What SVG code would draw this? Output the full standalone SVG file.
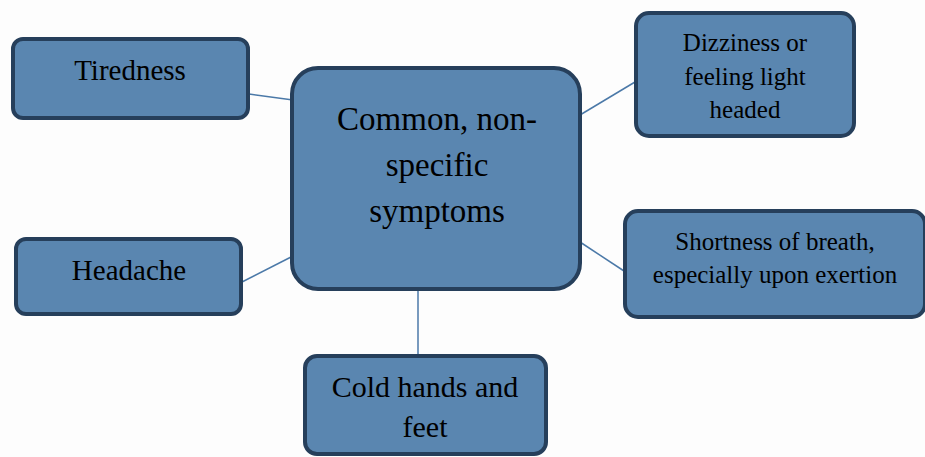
<svg xmlns="http://www.w3.org/2000/svg" width="925" height="457" viewBox="0 0 925 457">
<style>
.box{fill:#5a86b0;stroke:#263f5b;stroke-width:4}
.t{font-family:'Liberation Serif','Times New Roman','DejaVu Serif',serif;fill:#000;text-anchor:middle}
.c{stroke:#4b79a8;stroke-width:1.5;fill:none}
</style>
<rect width="925" height="457" fill="#fdfdfd"/>
<g id="connectors">
<line class="c" x1="249" y1="94" x2="293" y2="100"/>
<line class="c" x1="635" y1="82" x2="580" y2="115"/>
<line class="c" x1="242" y1="282" x2="293" y2="256"/>
<line class="c" x1="624" y1="271" x2="580" y2="242"/>
<line class="c" x1="418" y1="289" x2="418" y2="355"/>
</g>
<g id="center">
<rect class="box" x="292" y="68" width="288" height="221" rx="26"/>
<text class="t" font-family="Liberation Serif, serif" font-size="33"><tspan x="437" y="130">Common, non-</tspan><tspan x="437" y="176">specific</tspan><tspan x="437" y="222">symptoms</tspan></text>
</g>
<g id="tiredness">
<rect class="box" x="13" y="39" width="235" height="79" rx="10"/>
<text class="t" font-size="29" x="130" y="80">Tiredness</text>
</g>
<g id="dizziness">
<rect class="box" x="636" y="13" width="218" height="123" rx="13"/>
<text class="t" font-size="25"><tspan x="745" y="51">Dizziness or</tspan><tspan x="745" y="85">feeling light</tspan><tspan x="745" y="118">headed</tspan></text>
</g>
<g id="shortness">
<rect class="box" x="625" y="211" width="300" height="106" rx="13"/>
<text class="t" font-size="25"><tspan x="775" y="250">Shortness of breath,</tspan><tspan x="775" y="283">especially upon exertion</tspan></text>
</g>
<g id="headache">
<rect class="box" x="16" y="239" width="225" height="75" rx="10"/>
<text class="t" font-size="29" x="129" y="280">Headache</text>
</g>
<g id="cold">
<rect class="box" x="305" y="356" width="241" height="98" rx="12"/>
<text class="t" font-size="30"><tspan x="425" y="397">Cold hands and</tspan><tspan x="425" y="437">feet</tspan></text>
</g>
</svg>
